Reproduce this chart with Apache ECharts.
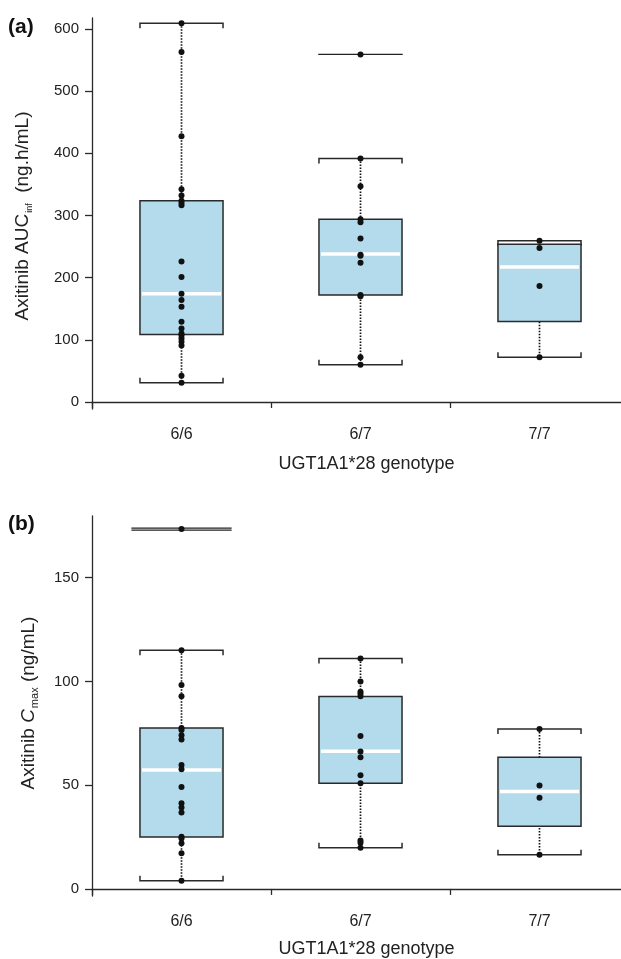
<!DOCTYPE html>
<html>
<head>
<meta charset="utf-8">
<script src="https://cdn.jsdelivr.net/npm/echarts@6/dist/echarts.min.js"></script>
<style>
  html, body { margin: 0; padding: 0; background: #fff; overflow: hidden; }
  /* the plot area runs a little past the right edge of the picture */
  #chart { width: 629px; height: 959px; }
</style>
</head>
<body>
<div id="chart"></div>
<script>
// genotype groups
const categories = ['6/6', '6/7', '7/7'];
const aucTicks = [0, 100, 200, 300, 400, 500, 600];
const cmaxTicks = [0, 50, 100, 150];

// [low whisker, Q1, median, Q3, high whisker]
const aucBoxes = [
  [31, 108.7, 174, 323.6, 609],
  [60, 172, 238, 294, 391.6],
  [72, 129.6, 217, 253.7, 259.4]
];
const cmaxBoxes = [
  [3.9, 25, 57.3, 77.6, 115],
  [19.9, 50.9, 66.3, 92.7, 111],
  [16.5, 30.2, 46.9, 63.4, 77.1]
];

// individual patients
const aucPoints66 = [609, 563, 427.5, 342, 332, 323.6, 320, 316.6, 226, 201, 174, 164, 153, 129, 118, 110, 107, 102, 97, 91, 42, 31];
const aucPoints67 = [559, 391.6, 347, 294, 289, 263, 237, 235, 224, 172, 170, 72, 60];
const aucPoints77 = [259.4, 247.7, 186.6, 72];
const cmaxPoints66 = [173.4, 115, 98.3, 92.8, 77.6, 76.6, 74, 72, 59.7, 57.7, 49.1, 41.3, 39.3, 36.8, 25.2, 24.3, 22, 17.2, 3.9];
const cmaxPoints67 = [111, 99.9, 95, 94, 92.8, 73.7, 66.2, 63.4, 54.8, 50.9, 23.4, 22.3, 19.9];
const cmaxPoints77 = [77.1, 49.8, 44, 16.5];

// lone horizontal bars drawn above some groups [group, value]
const aucExtra = [[1, 559]];
const cmaxExtra = [[0, 173.4]];

const INK = '#2a2a2a';
const BOX_FILL = '#b3dbec';

function renderBox(params, api) {
  const x = api.value(0);
  const lo = api.coord([x, api.value(1)]);
  const q1 = api.coord([x, api.value(2)]);
  const med = api.coord([x, api.value(3)]);
  const q3 = api.coord([x, api.value(4)]);
  const hi = api.coord([x, api.value(5)]);
  const half = api.size([1, 0])[0] * 0.232;
  const cx = lo[0];
  const serif = 5;
  return {
    type: 'group',
    children: [
      { // 虚线须
        type: 'line',
        shape: { x1: cx, y1: hi[1], x2: cx, y2: lo[1] },
        style: { stroke: '#111', lineWidth: 1.7, lineDash: [1.5, 1.5] }
      },
      {
        type: 'polyline',
        shape: { points: [[cx - half, hi[1] + serif], [cx - half, hi[1]], [cx + half, hi[1]], [cx + half, hi[1] + serif]] },
        style: { stroke: INK, lineWidth: 1.5, fill: null }
      },
      {
        type: 'polyline',
        shape: { points: [[cx - half, lo[1] - serif], [cx - half, lo[1]], [cx + half, lo[1]], [cx + half, lo[1] - serif]] },
        style: { stroke: INK, lineWidth: 1.5, fill: null }
      },
      {
        type: 'rect',
        shape: { x: cx - half, y: q3[1], width: half * 2, height: q1[1] - q3[1] },
        style: { fill: BOX_FILL, stroke: INK, lineWidth: 1.5 }
      },
      { // 中位数
        type: 'line',
        shape: { x1: cx - half + 2, y1: med[1], x2: cx + half - 2, y2: med[1] },
        style: { stroke: '#fff', lineWidth: 3.5 }
      }
    ]
  };
}

function makeBarRenderer(widthFactor, doubled) {
  return function (params, api) {
    const p = api.coord([api.value(0), api.value(1)]);
    const half = api.size([1, 0])[0] * widthFactor;
    const kids = [];
    const offs = doubled ? [-1, 1] : [0];
    offs.forEach(function (o) {
      kids.push({
        type: 'line',
        shape: { x1: p[0] - half, y1: p[1] + o, x2: p[0] + half, y2: p[1] + o },
        style: { stroke: '#222', lineWidth: 1.3 }
      });
    });
    return { type: 'group', children: kids };
  };
}

function pts(cat, arr) {
  return arr.map(function (v) { return [cat, v]; });
}

function xAxisFor(gridIndex, gap) {
  return {
    type: 'category',
    gridIndex: gridIndex,
    data: categories,
    boundaryGap: true,
    name: 'UGT1A1*28 genotype',
    nameLocation: 'middle',
    nameGap: gap,
    nameTextStyle: { fontSize: 18, color: '#222', fontFamily: 'Liberation Sans', padding: [0, 0, 0, 12] },
    axisLine: { lineStyle: { color: INK, width: 1.3 } },
    axisTick: { show: true, length: 6, interval: 0, lineStyle: { color: INK, width: 1.3 } },
    axisLabel: { fontSize: 16, color: '#222', fontFamily: 'Liberation Sans', margin: 18 },
    splitLine: { show: false }
  };
}

function yAxisFor(gridIndex, min, max, ticks) {
  return {
    type: 'value',
    gridIndex: gridIndex,
    min: min,
    max: max,
    axisLine: { show: true, lineStyle: { color: INK, width: 1.3 } },
    axisTick: { show: true, length: 7, customValues: ticks, lineStyle: { color: INK, width: 1.3 } },
    axisLabel: { fontSize: 15, color: '#222', fontFamily: 'Liberation Sans', margin: 13, customValues: ticks },
    splitLine: { show: false }
  };
}

const scatterStyle = { color: '#111', opacity: 1 };

let option = {
  animation: false,
  backgroundColor: '#fff',
  grid: [
    { left: 92, top: 18, width: 537, height: 391 },
    { left: 92, top: 516, width: 537, height: 380 }
  ],
  xAxis: [xAxisFor(0, 46), xAxisFor(1, 44)],
  yAxis: [yAxisFor(0, -11.3, 617.6, aucTicks), yAxisFor(1, -3.4, 179.7, cmaxTicks)],
  graphic: [
    { type: 'text', left: 8, top: 17, style: { text: '(a)', font: 'bold 21px "Liberation Sans"', fill: '#111' } },
    { type: 'text', left: 8, top: 514, style: { text: '(b)', font: 'bold 21px "Liberation Sans"', fill: '#111' } },
    {
      type: 'text', x: 23, y: 216, rotation: Math.PI / 2,
      style: {
        text: '{t|Axitinib AUC}{s|inf}{t|  (ng.h/mL)}',
        align: 'center', verticalAlign: 'middle',
        rich: {
          t: { fontSize: 19, fontFamily: 'Liberation Sans', fill: '#222', lineHeight: 22 },
          s: { fontSize: 9, fontFamily: 'Liberation Sans', fill: '#222', verticalAlign: 'bottom', padding: [8, 0, 0, 1] }
        }
      }
    },
    {
      type: 'text', x: 29, y: 703, rotation: Math.PI / 2,
      style: {
        text: '{t|Axitinib }{i|C}{s|max}{t| (ng/mL)}',
        align: 'center', verticalAlign: 'middle',
        rich: {
          t: { fontSize: 19, fontFamily: 'Liberation Sans', fill: '#222', lineHeight: 22 },
          i: { fontSize: 19, fontFamily: 'Liberation Sans', fontStyle: 'italic', fill: '#222', lineHeight: 22 },
          s: { fontSize: 11, fontFamily: 'Liberation Sans', fill: '#222', verticalAlign: 'bottom', padding: [8, 0, 0, 1] }
        }
      }
    }
  ],
  series: [
    {
      type: 'custom', xAxisIndex: 0, yAxisIndex: 0, renderItem: renderBox, z: 2,
      data: aucBoxes.map(function (b, i) { return [i].concat(b); })
    },
    {
      type: 'custom', xAxisIndex: 1, yAxisIndex: 1, renderItem: renderBox, z: 2,
      data: cmaxBoxes.map(function (b, i) { return [i].concat(b); })
    },
    { type: 'custom', xAxisIndex: 0, yAxisIndex: 0, renderItem: makeBarRenderer(0.236, false), z: 2, data: aucExtra },
    { type: 'custom', xAxisIndex: 1, yAxisIndex: 1, renderItem: makeBarRenderer(0.28, true), z: 2, data: cmaxExtra },
    {
      type: 'scatter', xAxisIndex: 0, yAxisIndex: 0, symbolSize: 6, z: 5, itemStyle: scatterStyle,
      data: pts(0, aucPoints66).concat(pts(1, aucPoints67), pts(2, aucPoints77))
    },
    {
      type: 'scatter', xAxisIndex: 1, yAxisIndex: 1, symbolSize: 6, z: 5, itemStyle: scatterStyle,
      data: pts(0, cmaxPoints66).concat(pts(1, cmaxPoints67), pts(2, cmaxPoints77))
    }
  ]
};

let myChart = echarts.init(document.getElementById('chart'));
myChart.setOption(option);
</script>
</body>
</html>
